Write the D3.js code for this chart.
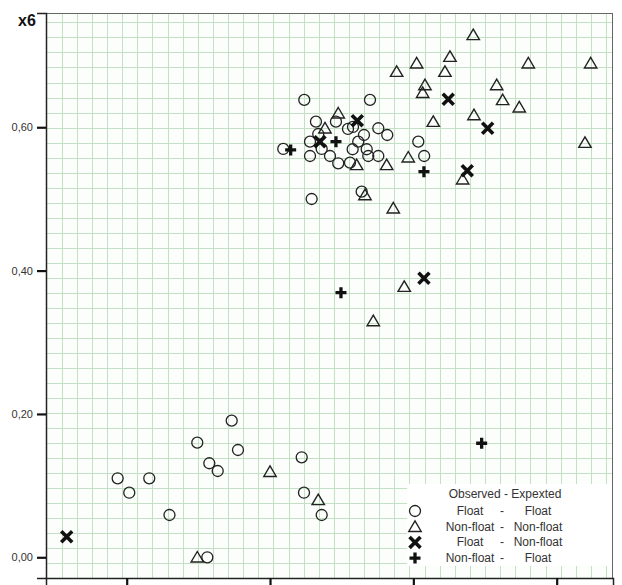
<!DOCTYPE html>
<html><head><meta charset="utf-8">
<script src="https://cdn.jsdelivr.net/npm/d3@7"></script>
<style>html,body{margin:0;padding:0;background:#fff;}svg{display:block;}</style>
</head><body>
<script>
// ---- data ----
const yTicks = [0.00, 0.20, 0.40, 0.60];
const yTickLabels = ["0,00", "0,20", "0,40", "0,60"];
const xTicks = [0.2, 0.4, 0.6, 0.8];
const yLabel = "x6";

// Float - Float (circles)
const floatFloat = [
  [0.3465,0.1906],[0.2985,0.1599],[0.3553,0.1497],[0.3153,0.1312],[0.3270,0.1204],
  [0.1874,0.1102],[0.2315,0.1102],[0.2036,0.0901],[0.2597,0.0590],[0.4442,0.1395],
  [0.4474,0.0901],[0.4721,0.0590],[0.3125,0.0000],
  [0.4478,0.6381],[0.5395,0.6381],[0.4641,0.6078],[0.4920,0.6078],[0.5088,0.5976],
  [0.5158,0.6004],[0.5511,0.5986],[0.4673,0.5906],[0.5311,0.5892],[0.5636,0.5892],
  [0.4558,0.5799],[0.5231,0.5799],[0.6069,0.5799],[0.4185,0.5697],[0.4721,0.5697],
  [0.5153,0.5693],[0.5349,0.5693],[0.4558,0.5599],[0.4837,0.5599],[0.5371,0.5599],
  [0.5511,0.5599],[0.6151,0.5599],[0.4952,0.5497],[0.5116,0.5506],[0.5279,0.5101],
  [0.4581,0.4999]
];
// Non-float - Non-float (triangles)
const nonNon = [
  [0.4000,0.1194],[0.4673,0.0800],[0.2985,0.0000],
  [0.4952,0.6195],[0.4767,0.5986],[0.5209,0.5474],[0.5628,0.5474],[0.5929,0.5581],
  [0.5325,0.5055],[0.5720,0.4870],[0.6836,0.7288],[0.6511,0.6985],[0.6046,0.6893],
  [0.5767,0.6776],[0.6441,0.6776],[0.7604,0.6893],[0.8474,0.6893],[0.6162,0.6590],
  [0.6130,0.6482],[0.7163,0.6590],[0.7246,0.6381],[0.7478,0.6279],[0.6846,0.6171],
  [0.6278,0.6078],[0.8395,0.5785],[0.6688,0.5274],[0.5873,0.3776],[0.5441,0.3297]
];
// Float - Non-float (bold x)
const floatNon = [
  [0.1163,0.0287],[0.5218,0.6092],[0.4697,0.5799],[0.6487,0.6390],
  [0.7037,0.5986],[0.6752,0.5394],[0.6148,0.3893]
];
// Non-float - Float (bold +)
const nonFloat = [
  [0.4288,0.5683],[0.4920,0.5799],[0.6148,0.5380],[0.4990,0.3692],[0.6953,0.1591]
];

const legendTitle = "Observed - Expexted";
const legendRows = [
  {type:"circle",  obs:"Float",     exp:"Float"},
  {type:"triangle",obs:"Non-float", exp:"Non-float"},
  {type:"x",       obs:"Float",     exp:"Non-float"},
  {type:"plus",    obs:"Non-float", exp:"Float"}
];

// ---- layout ----
const W = 622, H = 585;
const L = 46, R = 613, T = 13, B = 578;
const svg = d3.select("body").append("svg").attr("width", W).attr("height", H)
  .style("font-family", "Liberation Sans, Arial, sans-serif");

const x = d3.scaleLinear().domain([0.0874, 0.8786]).range([L, R]);
const y = d3.scaleLinear().domain([-0.0289, 0.7594]).range([B, T]);

// plot background
svg.append("rect").attr("x", L).attr("y", T).attr("width", R-L).attr("height", B-T)
  .attr("fill", "#fbfefb");

// grid
const grid = svg.append("g").attr("stroke", "#c4e0c4").attr("stroke-width", 1).attr("shape-rendering","crispEdges");
d3.range(0, 37).forEach(k => {
  const gx = Math.round(61.7 + 15.12*k) + 0.5;
  if (gx < R) grid.append("line").attr("x1", gx).attr("x2", gx).attr("y1", T).attr("y2", B);
});
d3.range(0, 37).forEach(k => {
  const gy = Math.round(22.4 + 15.03*k) + 0.5;
  if (gy < B) grid.append("line").attr("x1", L).attr("x2", R).attr("y1", gy).attr("y2", gy);
});

// legend background
svg.append("rect").attr("x", 407).attr("y", 484).attr("width", 205).attr("height", 82).attr("fill", "#fff");

// frame
svg.append("line").attr("x1", L).attr("x2", R).attr("y1", T+0.5).attr("y2", T+0.5).attr("stroke", "#666");
svg.append("line").attr("x1", R-0.5).attr("x2", R-0.5).attr("y1", T).attr("y2", B).attr("stroke", "#666");

// axes
const yAxis = d3.axisLeft(y).tickValues(yTicks).tickSize(9).tickPadding(4)
  .tickFormat((d,i) => yTickLabels[i]);
const gy = svg.append("g").attr("transform", `translate(${L},0)`).call(yAxis);
gy.select(".domain").attr("stroke", "#222").attr("stroke-width", 1.5);
gy.selectAll(".tick line").attr("stroke", "#111").attr("stroke-width", 2.2);
gy.selectAll(".tick text").attr("font-size", 11).attr("fill", "#333")
  .attr("font-family", "Liberation Sans, Arial, sans-serif");

const xAxis = d3.axisBottom(x).tickValues(xTicks).tickSize(12).tickFormat("");
const gx = svg.append("g").attr("transform", `translate(0,${B})`).call(xAxis);
gx.select(".domain").attr("stroke", "#222").attr("stroke-width", 1.5);
gx.selectAll(".tick line").attr("stroke", "#111").attr("stroke-width", 2.2);

// y label
svg.append("text").attr("x", 18).attr("y", 26).text(yLabel)
  .attr("font-size", 16).attr("font-weight", "bold").attr("fill", "#111");

// symbols
function drawSym(g, type, cx, cy) {
  if (type === "circle") {
    g.append("circle").attr("cx", cx).attr("cy", cy).attr("r", 5.5)
      .attr("fill", "none").attr("stroke", "#222").attr("stroke-width", 1.3);
  } else if (type === "triangle") {
    const w = 6.2, h = 10.5;
    g.append("path").attr("d", `M${cx},${cy - h*0.55}L${cx + w},${cy + h*0.45}L${cx - w},${cy + h*0.45}Z`)
      .attr("fill", "none").attr("stroke", "#222").attr("stroke-width", 1.4).attr("stroke-linejoin","miter");
  } else if (type === "x") {
    const s = 4.2;
    g.append("path").attr("d", `M${cx-s},${cy-s}L${cx+s},${cy+s}M${cx+s},${cy-s}L${cx-s},${cy+s}`)
      .attr("stroke", "#111").attr("stroke-width", 3.6).attr("stroke-linecap", "square");
  } else if (type === "plus") {
    const s = 5.5;
    g.append("path").attr("d", `M${cx-s},${cy}L${cx+s},${cy}M${cx},${cy-s}L${cx},${cy+s}`)
      .attr("stroke", "#111").attr("stroke-width", 3.3);
  }
}

const marks = svg.append("g");
floatFloat.forEach(d => drawSym(marks, "circle", x(d[0]), y(d[1])));
nonNon.forEach(d => drawSym(marks, "triangle", x(d[0]), y(d[1])));
floatNon.forEach(d => drawSym(marks, "x", x(d[0]), y(d[1])));
nonFloat.forEach(d => drawSym(marks, "plus", x(d[0]), y(d[1])));

// legend
const lg = svg.append("g").attr("font-size", 12).attr("fill", "#333");
lg.append("text").attr("x", 505).attr("y", 498).attr("text-anchor", "middle").text(legendTitle);
legendRows.forEach((r, i) => {
  const ry = 511 + i*15.7;
  drawSym(lg, r.type, 415, ry);
  lg.append("text").attr("x", 470).attr("y", ry + 4).attr("text-anchor", "middle").text(r.obs);
  lg.append("text").attr("x", 502).attr("y", ry + 4).attr("text-anchor", "middle").text("-");
  lg.append("text").attr("x", 538).attr("y", ry + 4).attr("text-anchor", "middle").text(r.exp);
});
</script>
</body></html>
